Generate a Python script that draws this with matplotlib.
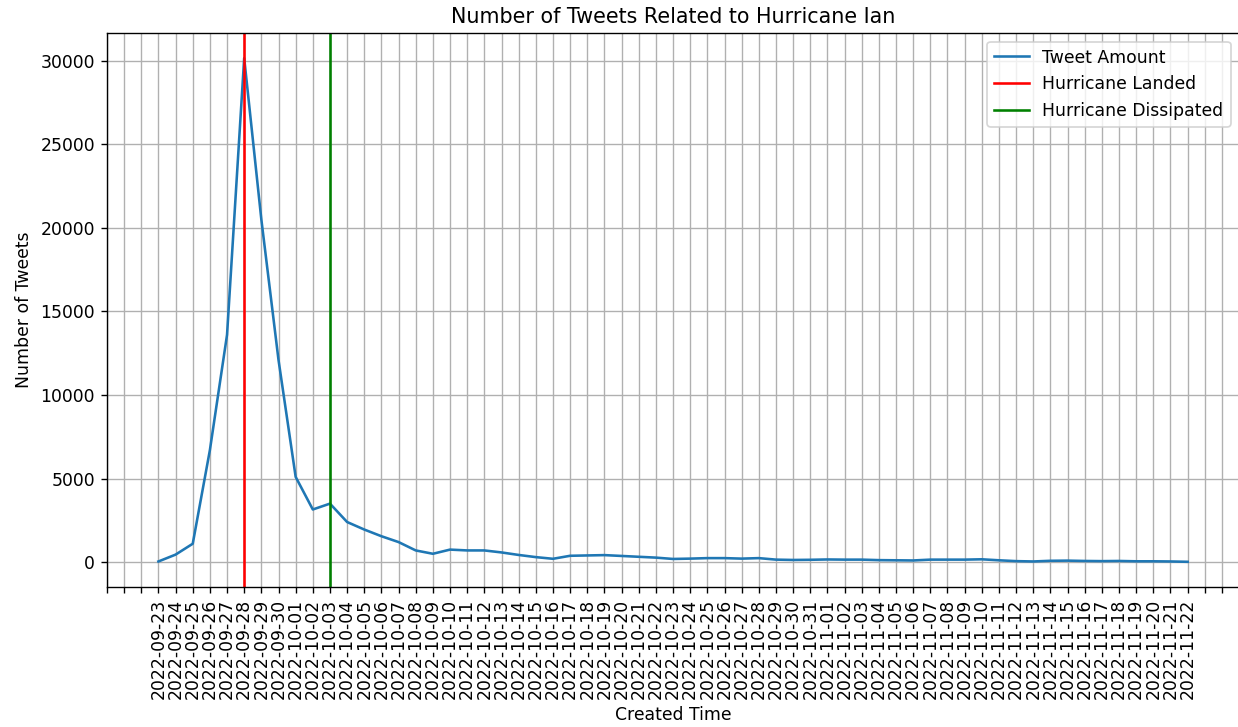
import matplotlib
matplotlib.use("Agg")
import matplotlib.pyplot as plt
import matplotlib.dates as mdates
import matplotlib.ticker as mticker
import pandas as pd

dates = pd.date_range("2022-09-23", "2022-11-22", freq="D")
tweet_counts = [
    40, 450, 1100, 6700, 13600, 30150, 20500, 12100, 5100, 3150,
    3500, 2400, 1950, 1550, 1200, 700, 500, 750, 700, 700,
    580, 430, 300, 200, 380, 400, 420, 370, 320, 270,
    190, 210, 240, 240, 210, 240, 150, 130, 140, 160,
    150, 150, 120, 110, 100, 150, 150, 150, 170, 110,
    60, 40, 80, 90, 70, 60, 70, 50, 50, 40,
    20,
]
landed_date = "2022-09-28"
dissipated_date = "2022-10-03"

DPI = 124
fig = plt.figure(figsize=(1238 / DPI, 727 / DPI), dpi=DPI)
ax = fig.add_axes([0.0864, 0.1926, 0.9145, 0.762])

ax.plot(dates, tweet_counts, color="#1f77b4", label="Tweet Amount")
ax.axvline(pd.Timestamp(landed_date), color="red", label="Hurricane Landed")
ax.axvline(pd.Timestamp(dissipated_date), color="green", label="Hurricane Dissipated")

ax.xaxis.set_major_locator(mdates.DayLocator())
first, last = mdates.date2num(dates[0]), mdates.date2num(dates[-1])

def fmt(v, pos):
    if first - 0.01 <= v <= last + 0.01:
        return mdates.num2date(v).strftime("%Y-%m-%d")
    return ""

ax.xaxis.set_major_formatter(mticker.FuncFormatter(fmt))
ax.tick_params(axis="x", labelrotation=90)
ax.grid(True)
ax.set_title("Number of Tweets Related to Hurricane Ian")
ax.set_xlabel("Created Time")
ax.set_ylabel("Number of Tweets")
ax.legend(loc="upper right")

fig.savefig("out.png", dpi=DPI)
